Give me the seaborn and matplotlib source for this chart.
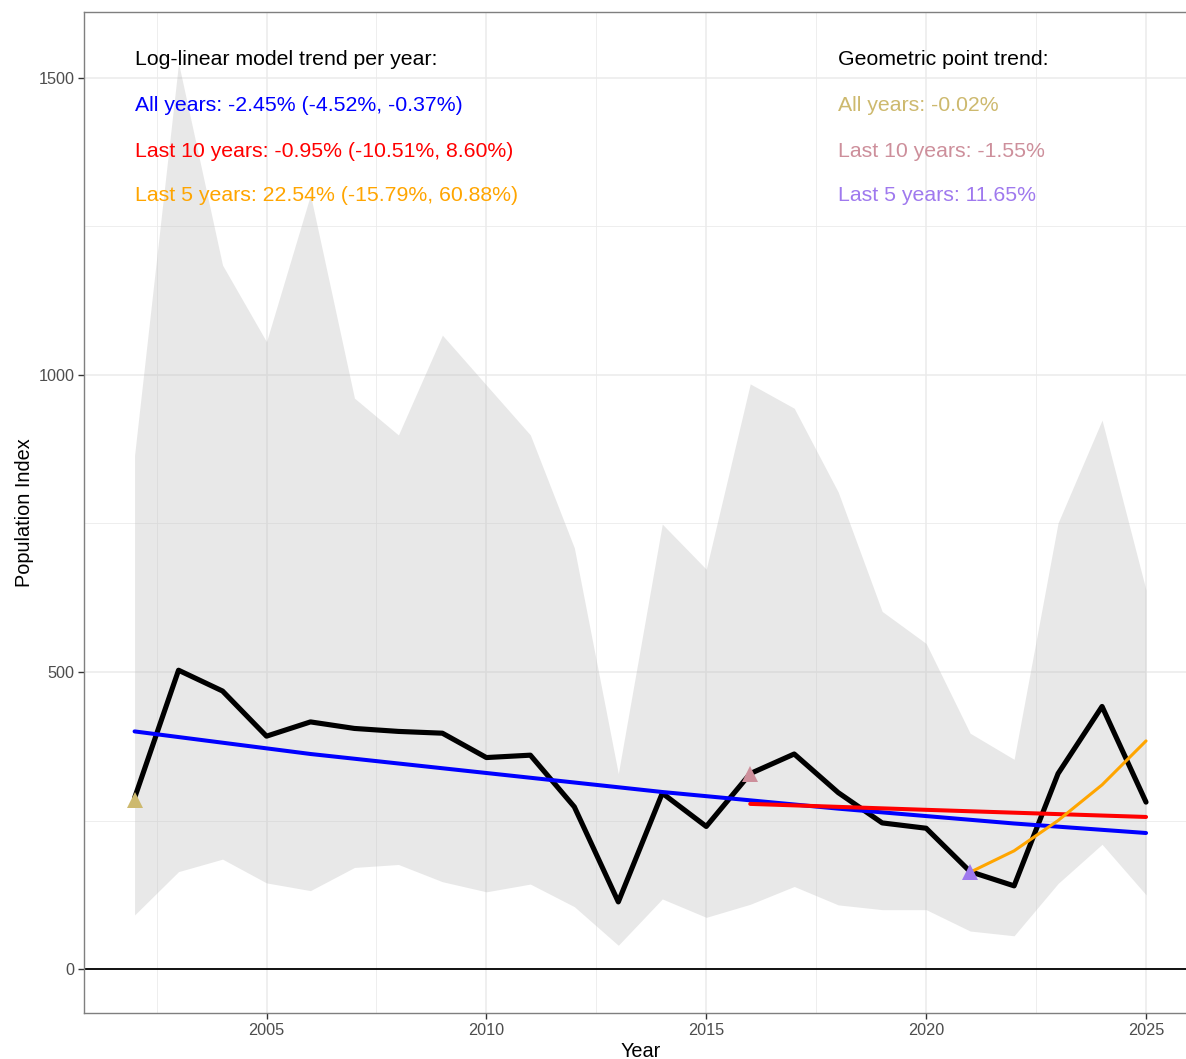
import matplotlib
matplotlib.use("Agg")
import matplotlib.pyplot as plt
import numpy as np
import pandas as pd
import seaborn as sns

# index values
years = list(range(2002, 2026))
index_vals = [288, 503, 468, 392, 416, 405, 400, 397, 356, 360, 273, 113,
              296, 240, 329, 362, 297, 246, 237, 164, 140, 329, 442, 281]
lower_ci = [91, 164, 185, 145, 132, 171, 176, 147, 130, 143, 105, 40,
            118, 87, 109, 139, 108, 100, 100, 64, 56, 144, 210, 125]
upper_ci = [865, 1525, 1185, 1056, 1303, 961, 899, 1067, 983, 899, 709, 329,
            749, 673, 985, 944, 803, 602, 548, 397, 353, 751, 924, 638]

# model trend lines
all_years_x = [2002, 2006, 2010, 2014, 2018, 2022, 2025]
all_years_y = [400, 362, 330, 298, 270, 245, 229]
last10_x = [2016, 2020, 2025]
last10_y = [278, 268, 256]
last5_x = [2021, 2022, 2023, 2024, 2025]
last5_y = [163, 199, 250, 310, 384]

# geometric trend start points
start_x = [2002, 2016, 2021]
start_y = [285, 329, 164]
start_colors = ["#CDB96E", "#CD8F9B", "#9F79EE"]

left_title = "Log-linear model trend per year:"
left_lines = ["All years: -2.45% (-4.52%, -0.37%)",
              "Last 10 years: -0.95% (-10.51%, 8.60%)",
              "Last 5 years: 22.54% (-15.79%, 60.88%)"]
left_colors = ["#0000FF", "#FF0000", "#FFA500"]
right_title = "Geometric point trend:"
right_lines = ["All years: -0.02%", "Last 10 years: -1.55%", "Last 5 years: 11.65%"]
text_y = [1531, 1453, 1377, 1302]

sns.set_theme(style="white")
plt.rcParams['font.family'] = ['Liberation Sans', 'DejaVu Sans']

fig = plt.figure(figsize=(11.86, 10.59), dpi=100)
ax = fig.add_axes([84 / 1186, 46 / 1059, 1112.6 / 1186, 1001 / 1059])

ax.set_xlim(2000.85, 2026.15)
ax.set_ylim(-74, 1611)
ax.set_xticks([2005, 2010, 2015, 2020, 2025])
ax.set_xticks([2002.5, 2007.5, 2012.5, 2017.5, 2022.5], minor=True)
ax.set_yticks([0, 500, 1000, 1500])
ax.set_yticks([250, 750, 1250], minor=True)
ax.grid(True, which='major', color='#EBEBEB', linewidth=1.1)
ax.grid(True, which='minor', color='#EBEBEB', linewidth=0.6)
ax.set_axisbelow(True)

df = pd.DataFrame({'Year': years, 'Index': index_vals, 'lo': lower_ci, 'hi': upper_ci})

ax.fill_between(df['Year'], df['lo'], df['hi'], color='#BEBEBE', alpha=0.35, linewidth=0, zorder=1)
ax.axhline(0, color='black', linewidth=1.3, zorder=2)

sns.lineplot(data=df, x='Year', y='Index', color='black', linewidth=3.7, ax=ax, zorder=3)
sns.lineplot(x=all_years_x, y=all_years_y, color='#0000FF', linewidth=2.9, ax=ax, zorder=4)
sns.lineplot(x=last10_x, y=last10_y, color='#FF0000', linewidth=2.9, ax=ax, zorder=5)
sns.lineplot(x=last5_x, y=last5_y, color='#FFA500', linewidth=2.2, ax=ax, zorder=6)
for sx, sy, c in zip(start_x, start_y, start_colors):
    ax.plot(sx, sy, marker='^', markersize=11, color=c, markeredgewidth=0, linestyle='none', zorder=7)

ax.text(2002, text_y[0], left_title, color='black', fontsize=15.3, va='center', ha='left')
for t, c, y in zip(left_lines, left_colors, text_y[1:]):
    ax.text(2002, y, t, color=c, fontsize=15.3, va='center', ha='left')
ax.text(2018, text_y[0], right_title, color='black', fontsize=15.3, va='center', ha='left')
for t, c, y in zip(right_lines, start_colors, text_y[1:]):
    ax.text(2018, y, t, color=c, fontsize=15.3, va='center', ha='left')

ax.set_xlabel('Year', fontsize=14.3, color='black', labelpad=3)
ax.set_ylabel('Population Index', fontsize=14.3, color='black', labelpad=3)
ax.tick_params(axis='both', which='major', labelsize=11.7, labelcolor='#4D4D4D',
               color='#333333', length=4, width=1, bottom=True, left=True, pad=3)
ax.tick_params(axis='both', which='minor', length=0)
for s in ax.spines.values():
    s.set_color('#7F7F7F')
    s.set_linewidth(1.0)

fig.savefig('out.png', dpi=100)
